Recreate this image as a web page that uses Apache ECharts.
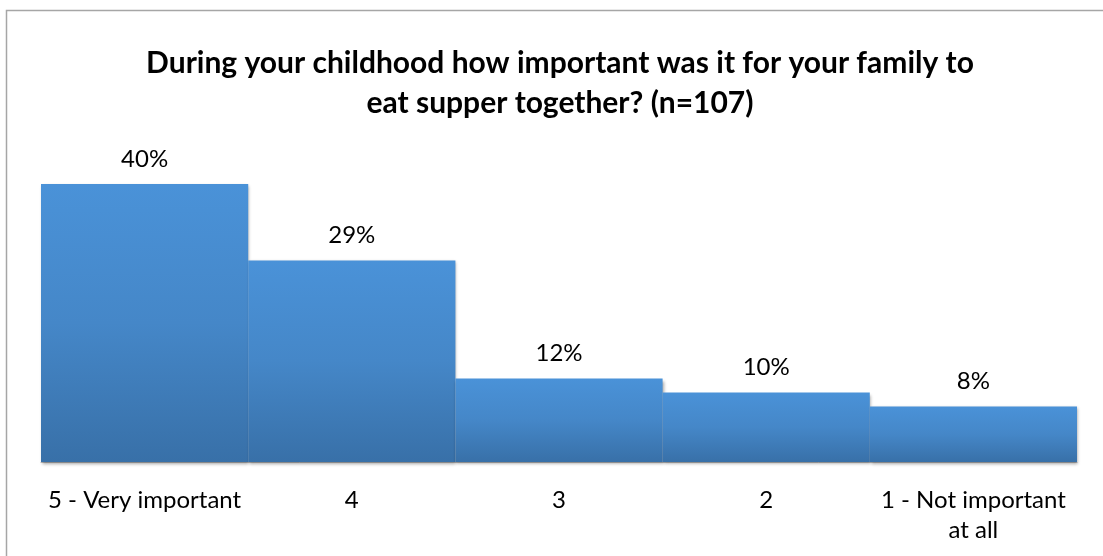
<!DOCTYPE html>
<html>
<head>
<meta charset="utf-8">
<script src="https://cdn.jsdelivr.net/npm/echarts@6/dist/echarts.min.js"></script>
<style>
  html, body { margin: 0; padding: 0; background: #fff; }
  #chart { width: 1103px; height: 556px; }
</style>
</head>
<body>
<div id="chart"></div>
<script>
// Survey answers and the share of respondents for each
const categories = ['5 - Very important', '4', '3', '2', '1 - Not important\nat all'];
const shares = [40, 29, 12, 10, 8];
const titleText = 'During your childhood how important was it for your family to\neat supper together? (n=107)';

const FONT = 'Lato, "Open Sans", sans-serif';

const chart = echarts.init(document.getElementById('chart'), null, { renderer: 'canvas' });

chart.setOption({
  animation: false,
  backgroundColor: '#ffffff',
  graphic: [{
    type: 'rect',
    shape: { x: 6.5, y: 10.5, width: 1120, height: 580 },
    style: { fill: 'none', stroke: '#a6a6a6', lineWidth: 1.5 },
    z: 100
  }],
  title: {
    text: titleText,
    left: 555,
    top: 38,
    textAlign: 'center',
    textStyle: {
      fontFamily: FONT,
      fontWeight: 'bold',
      fontSize: 30,
      lineHeight: 40,
      color: '#000'
    }
  },
  grid: { left: 41, right: 26, top: 184, bottom: 94, containLabel: false },
  xAxis: {
    type: 'category',
    data: categories,
    axisLine: { show: true, lineStyle: { color: '#bfbfbf', width: 1 } },
    axisTick: { show: false },
    axisLabel: {
      fontFamily: FONT,
      fontSize: 24,
      color: '#000',
      margin: 23,
      lineHeight: 30,
      interval: 0
    }
  },
  yAxis: {
    type: 'value',
    min: 0,
    max: 40,
    show: false,
    splitLine: { show: false }
  },
  series: [{
    type: 'bar',
    data: shares,
    barCategoryGap: '0%',
    itemStyle: {
      color: new echarts.graphic.LinearGradient(0, 0, 0, 1, [
        { offset: 0, color: '#4a92d8' },
        { offset: 0.5, color: '#4587c8' },
        { offset: 1, color: '#3870a8' }
      ]),
      shadowColor: 'rgba(0,0,0,0.35)',
      shadowBlur: 3,
      shadowOffsetX: 1,
      shadowOffsetY: 2
    },
    label: {
      show: true,
      position: 'top',
      distance: 13,
      formatter: p => p.value + '%',
      fontFamily: FONT,
      fontSize: 24,
      color: '#000'
    }
  }]
});
</script>
</body>
</html>
